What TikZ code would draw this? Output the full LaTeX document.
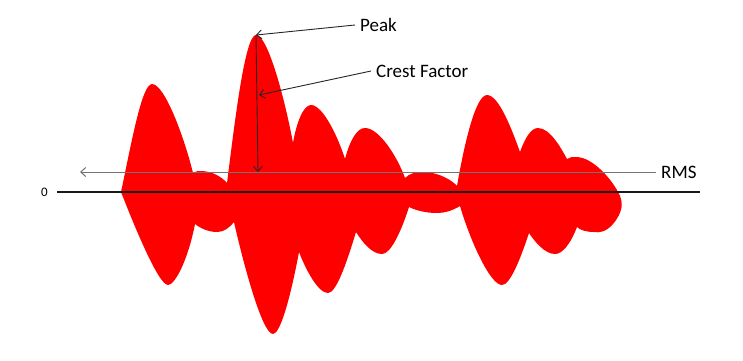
\documentclass[tikz,border=0pt]{standalone}
\usepackage{fontspec}
\setmainfont{Carlito}
\usetikzlibrary{arrows.meta}

\begin{document}
\begin{tikzpicture}[>={Straight Barb[length=5pt,width=9pt]},x=1pt,y=-1pt]
  \tikzstyle{lbl}=[font=\fontsize{19}{21}\selectfont,inner sep=5pt]
  \tikzstyle{pointer}=[->,line width=0.9pt,black!85]
  \tikzstyle{axis}=[line width=2.6pt,black!90]
  \tikzstyle{rms}=[->,line width=1pt,black!55]
  \useasboundingbox (0,0) rectangle (743,360);

  % the signal
  \fill[red] (121,192) .. controls (132,140) and (142,84) .. (152,84)
    .. controls (165,84) and (185,140) .. (193,173)
    .. controls (196,171) and (198,171) .. (201,171)
    .. controls (212,171) and (222,177) .. (227,183)
    .. controls (235,120) and (245,35) .. (256,35)
    .. controls (268,35) and (285,100) .. (293,143)
    .. controls (297,120) and (304,105) .. (311,105)
    .. controls (323,105) and (338,137) .. (345,159)
    .. controls (350,140) and (357,128) .. (365,128)
    .. controls (379,128) and (397,156) .. (405,178)
    .. controls (410,173) and (416,172) .. (423,172)
    .. controls (438,172) and (452,180) .. (457,186)
    .. controls (465,140) and (476,95) .. (487,95)
    .. controls (499,95) and (512,130) .. (520,152)
    .. controls (525,138) and (531,128) .. (538,128)
    .. controls (550,128) and (561,148) .. (567,159)
    .. controls (570,157) and (572,157) .. (576,157)
    .. controls (593,157) and (612,180) .. (618,192)
    .. controls (624,202) and (623,212) .. (613,224)
    .. controls (606,232) and (599,233) .. (594,232)
    .. controls (586,232) and (580,230) .. (577,227)
    .. controls (570,245) and (562,254) .. (555,254)
    .. controls (545,254) and (535,242) .. (529,233)
    .. controls (520,260) and (510,285) .. (502,285)
    .. controls (490,285) and (470,240) .. (460,206)
    .. controls (452,211) and (444,213) .. (437,213)
    .. controls (425,213) and (415,210) .. (409,207)
    .. controls (400,235) and (390,254) .. (382,254)
    .. controls (372,254) and (363,243) .. (356,232)
    .. controls (346,265) and (336,293) .. (328,293)
    .. controls (318,293) and (306,270) .. (299,252)
    .. controls (290,300) and (280,334) .. (273,334)
    .. controls (262,334) and (243,262) .. (234,222)
    .. controls (229,228) and (224,232) .. (217,232)
    .. controls (208,232) and (200,228) .. (195,224)
    .. controls (188,260) and (175,285) .. (168,285)
    .. controls (158,285) and (132,220) .. (121,192) -- cycle;

  \coordinate (axL) at (57,192);
  \coordinate (axR) at (700,192);
  \coordinate (rmsL) at (80,172);
  \coordinate (pk) at (256,35);
  \coordinate (cf) at (259,95);
  \coordinate (cfb) at (258,172);

  \node[lbl,font=\fontsize{13}{15}\selectfont,anchor=east,xshift=-4pt] (zero) at (axL) {0};
  \node[lbl,anchor=west] (rmslbl) at (656,172) {RMS};
  \node[lbl,anchor=west] (peak) at (355,25) {Peak};
  \node[lbl,anchor=west] (crest) at (371,71) {Crest Factor};

  \draw[axis] (axL) -- (axR);
  \draw[rms] (rmslbl.west) -- (rmsL);
  \draw[pointer] (pk) -- (cfb);
  \draw[pointer] (peak.west) -- (pk);
  \draw[pointer] (crest.west) -- (cf);
\end{tikzpicture}
\end{document}
